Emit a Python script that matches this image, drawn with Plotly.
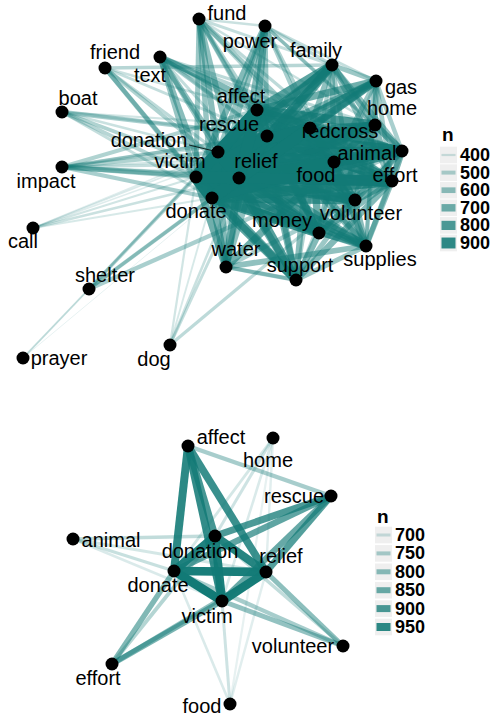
import plotly.graph_objects as go

# ---------------- data: top network ----------------
top_nodes = ["victim", "relief", "donation", "donate", "rescue", "affect", "redcross", "food",
             "animal", "effort", "volunteer", "money", "home", "family", "gas", "support",
             "supplies", "water", "power", "fund", "text", "friend", "boat", "impact", "call",
             "shelter", "prayer", "dog"]
top_x = [196, 239, 218, 212, 267, 257, 310, 334, 402, 392, 355, 319, 375, 332, 376, 296,
         366, 226, 265, 199, 160, 105, 62, 62, 33, 89, 23, 170]
top_y = [177, 178, 152, 198, 136, 110, 128, 162, 151, 181, 200, 233, 125, 65, 81, 280,
         246, 267, 26, 19, 57, 68, 112, 167, 228, 289, 358, 345]

top_from = (
    ["victim"] * 5 + ["relief"] * 4 + ["donation"] * 3 + ["donate"] * 2 + ["rescue"]
    + ["redcross"] * 6 + ["food"] * 6 + ["animal"] * 6 + ["effort"] * 6 + ["volunteer"] * 6
    + ["money"] * 6 + ["home"] * 6 + ["family"] * 6 + ["gas"] * 6 + ["support"] * 6
    + ["supplies"] * 6 + ["water"] * 6 + ["power"] * 6
    + ["redcross"] * 10 + ["food"] * 9 + ["animal"] * 7 + ["effort"] * 7 + ["volunteer"] * 6
    + ["money"] * 3 + ["home"] * 4 + ["family"] * 3 + ["gas"] * 3 + ["support", "supplies", "support"]
    + ["power"] * 3 + ["water"] * 2
    + ["fund"] * 13 + ["text"] * 13 + ["friend"] * 7 + ["boat"] * 7 + ["impact"] * 11
    + ["call"] * 6 + ["shelter"] * 6 + ["prayer"] * 2 + ["dog"] * 5
)
top_to = (
    ["relief", "donation", "donate", "rescue", "affect", "donation", "donate", "rescue", "affect",
     "donate", "rescue", "affect", "rescue", "affect", "affect"]
    + ["victim", "relief", "donation", "donate", "rescue", "affect"] * 13
    + ["food", "animal", "effort", "volunteer", "money", "home", "family", "gas", "support", "supplies"]
    + ["animal", "effort", "volunteer", "money", "home", "water", "supplies", "gas", "family"]
    + ["effort", "volunteer", "home", "family", "gas", "supplies", "money"]
    + ["volunteer", "money", "support", "home", "family", "gas", "supplies"]
    + ["money", "support", "supplies", "home", "gas", "family"]
    + ["support", "supplies", "home"]
    + ["family", "gas", "power", "supplies"]
    + ["gas", "power", "support"]
    + ["power", "supplies", "support"]
    + ["supplies", "water", "water"]
    + ["redcross", "food", "animal"]
    + ["volunteer", "support"]
    + ["victim", "relief", "donation", "donate", "rescue", "affect", "redcross", "food", "effort",
       "money", "power", "family", "home"]
    + ["victim", "relief", "donation", "donate", "redcross", "rescue", "affect", "food", "animal",
       "home", "effort", "money", "volunteer"]
    + ["victim", "relief", "donate", "donation", "family", "rescue", "affect"]
    + ["victim", "relief", "rescue", "donate", "donation", "animal", "redcross"]
    + ["victim", "relief", "donate", "donation", "rescue", "affect", "food", "effort", "home",
       "redcross", "animal"]
    + ["victim", "relief", "donate", "donation", "rescue", "redcross"]
    + ["victim", "relief", "donate", "animal", "donation", "prayer"]
    + ["victim", "relief"]
    + ["victim", "relief", "rescue", "animal", "donate"]
)
top_n = (
    [990, 960, 970, 940, 950, 960, 980, 930, 940, 950, 900, 920, 890, 910, 850]
    + [880, 920, 900, 930, 820, 780]
    + [850, 880, 840, 870, 760, 740]
    + [820, 830, 800, 820, 880, 700]
    + [860, 900, 820, 850, 780, 760]
    + [800, 820, 760, 780, 740, 680]
    + [800, 840, 760, 850, 700, 680]
    + [820, 800, 740, 760, 720, 800]
    + [780, 760, 700, 740, 680, 760]
    + [700, 720, 620, 660, 600, 700]
    + [760, 780, 700, 760, 640, 660]
    + [720, 760, 680, 720, 620, 640]
    + [700, 720, 640, 680, 600, 620]
    + [640, 620, 560, 580, 560, 680]
    + [720, 680, 700, 660, 700, 640, 600, 560, 620, 600]
    + [720, 680, 640, 620, 660, 700, 660, 560, 580]
    + [660, 640, 680, 600, 520, 560, 560]
    + [700, 620, 640, 620, 580, 540, 600]
    + [600, 560, 620, 580, 520, 540]
    + [640, 560, 540]
    + [640, 600, 480, 520]
    + [560, 460, 500]
    + [440, 480, 460]
    + [560, 600, 520]
    + [520, 500, 460]
    + [520, 480]
    + [560, 600, 620, 580, 520, 500, 540, 480, 460, 520, 420, 440, 420]
    + [580, 600, 560, 620, 640, 520, 480, 500, 480, 460, 460, 440, 420]
    + [520, 500, 540, 460, 480, 440, 420]
    + [480, 500, 520, 440, 420, 420, 400]
    + [540, 560, 520, 500, 480, 500, 440, 440, 420, 420, 400]
    + [400, 420, 380, 360, 370, 360]
    + [480, 500, 460, 520, 420, 360]
    + [380, 330]
    + [400, 420, 440, 460, 380]
)

# ---------------- data: bottom network ----------------
bot_nodes = ["affect", "home", "rescue", "animal", "donation", "relief", "donate", "victim",
             "volunteer", "effort", "food"]
bot_x = [188, 273, 331, 73, 215, 266, 174, 222, 343, 112, 230]
bot_y = [446, 438, 496, 539, 536, 572, 571, 601, 646, 664, 704]

bot_from = ["donate", "relief", "donate", "donation", "donation", "donation", "affect", "affect",
            "affect", "affect", "rescue", "rescue", "rescue", "rescue", "affect",
            "effort", "effort", "effort", "effort", "volunteer", "volunteer", "volunteer", "volunteer",
            "animal", "animal", "animal", "animal", "home", "home", "home", "home",
            "food", "food", "food", "food"]
bot_to = ["victim", "victim", "relief", "victim", "donate", "relief", "donate", "victim",
          "relief", "donation", "donation", "relief", "donate", "victim", "rescue",
          "donate", "victim", "relief", "donation", "relief", "victim", "donate", "donation",
          "donation", "donate", "relief", "victim", "donate", "donation", "victim", "relief",
          "victim", "donate", "home", "relief"]
bot_n = [990, 985, 980, 975, 970, 960, 950, 940,
         930, 910, 900, 890, 870, 860, 760,
         820, 830, 790, 740, 800, 790, 760, 720,
         720, 710, 690, 680, 690, 700, 680, 670,
         700, 680, 660, 670]

# legend breaks
top_breaks = [400, 500, 600, 700, 800, 900]
bot_breaks = [700, 750, 800, 850, 900, 950]

# ---------------- styling ----------------
EDGE_RGB = (18, 122, 118)
FONT = "Liberation Sans, Arial, sans-serif"

# label placement (pixel nudges, like ggrepel)
top_label_dx = [-16, 17, -69, -16, -38, -16, 30, -18, -35, 3, 6, -37, 17, -16, 25, 4,
                14, 10, -15, 28, -10, 10, 16, -16, -10, 16, 36, -16]
top_label_dy = [-14, -15, -10, 15, -10, -12, 5, 15, 4, -4, 15, -11, -15, -13, 8, -13,
                15, -16, 17, -4, 20, -14, -12, 16, 15, -12, 2, 16]
bot_label_dx = [33, -5, -37, 38, -15, 15, -16, -15, -50, -14, -28]
bot_label_dy = [-7, 24, 2, 3, 17, -14, 16, 17, 2, 16, 4]

top_wrange = (1.0, 12.5)
bot_wrange = (2.2, 8.8)


def make_scale(values, wrange):
    lo, hi = min(values), max(values)

    def width(n):
        return wrange[0] + (wrange[1] - wrange[0]) * (n - lo) / (hi - lo)

    def alpha(n):
        return 0.1 + 0.9 * (n - lo) / (hi - lo)

    return width, alpha


def rgba(a):
    return "rgba(%d,%d,%d,%.3f)" % (EDGE_RGB + (a,))


fig = go.Figure()
shapes = []
annotations = []


def add_network(nodes, xs, ys, efrom, eto, en, dxs, dys, wrange):
    width, alpha = make_scale(en, wrange)
    pos = {n: (x, y) for n, x, y in zip(nodes, xs, ys)}
    order = sorted(range(len(en)), key=lambda i: en[i])
    for i in order:
        a, b = pos[efrom[i]], pos[eto[i]]
        fig.add_trace(go.Scatter(
            x=[a[0], b[0]], y=[a[1], b[1]], mode="lines",
            line=dict(color=rgba(alpha(en[i])), width=width(en[i])),
            hoverinfo="skip", showlegend=False))
    fig.add_trace(go.Scatter(
        x=xs, y=ys, mode="markers",
        marker=dict(color="black", size=13, line=dict(width=0)),
        text=nodes, hoverinfo="text", showlegend=False))
    fig.add_trace(go.Scatter(
        x=[x + dx for x, dx in zip(xs, dxs)], y=[y + dy for y, dy in zip(ys, dys)],
        mode="text", text=nodes, textposition="middle center",
        textfont=dict(family=FONT, size=20, color="black"),
        hoverinfo="skip", showlegend=False))
    return width, alpha


def add_legend(breaks, width, alpha, x0, ytitle, y0, step):
    annotations.append(dict(x=x0, y=ytitle, xref="x", yref="y", text="<b>n</b>",
                            showarrow=False, xanchor="left", yanchor="middle",
                            font=dict(family=FONT, size=19, color="black")))
    for k, b in enumerate(breaks):
        yc = y0 + k * step
        shapes.append(dict(type="rect", xref="x", yref="y", x0=x0, x1=x0 + 17,
                           y0=yc - 8.3, y1=yc + 8.3, fillcolor="#EFEFEF",
                           line=dict(width=0), layer="above"))
        shapes.append(dict(type="line", xref="x", yref="y", x0=x0 + 1.5, x1=x0 + 15.5,
                           y0=yc, y1=yc, line=dict(color=rgba(alpha(b)), width=min(width(b), 16)),
                           layer="above"))
        annotations.append(dict(x=x0 + 18, y=yc, xref="x", yref="y", text="<b>%d</b>" % b,
                                showarrow=False, xanchor="left", yanchor="middle",
                                font=dict(family=FONT, size=18, color="black")))


tw, ta = add_network(top_nodes, top_x, top_y, top_from, top_to, top_n,
                     top_label_dx, top_label_dy, top_wrange)
bw, ba = add_network(bot_nodes, bot_x, bot_y, bot_from, bot_to, bot_n,
                     bot_label_dx, bot_label_dy, bot_wrange)

# leader segment for the "donation" label (top)
i_don = top_nodes.index("donation")
fig.add_trace(go.Scatter(
    x=[top_x[i_don] + top_label_dx[i_don] + 40, top_x[i_don]],
    y=[top_y[i_don] + top_label_dy[i_don] + 3, top_y[i_don]],
    mode="lines", line=dict(color="black", width=0.8), hoverinfo="skip", showlegend=False))

add_legend(top_breaks, tw, ta, 440, 134, 155, 17.6)
add_legend(bot_breaks, bw, ba, 375, 516, 535, 18.4)

fig.update_layout(
    width=492, height=720,
    margin=dict(l=0, r=0, t=0, b=0),
    paper_bgcolor="white", plot_bgcolor="white",
    xaxis=dict(range=[0, 492], visible=False, fixedrange=True),
    yaxis=dict(range=[720, 0], visible=False, fixedrange=True),
    shapes=shapes, annotations=annotations,
    font=dict(family=FONT),
)

fig.write_html("out.html",
               config={"displayModeBar": False},
               post_script="document.body.style.margin='0';document.body.style.overflow='hidden';")
